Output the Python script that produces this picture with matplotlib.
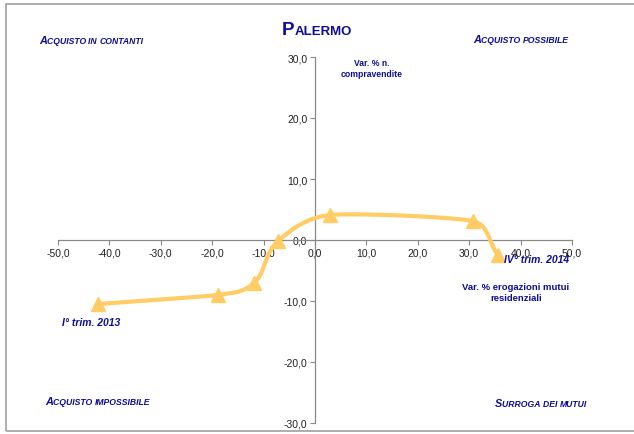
import numpy as np
import matplotlib
matplotlib.use("Agg")
import matplotlib.pyplot as plt
from matplotlib.ticker import FuncFormatter, MultipleLocator
from matplotlib.offsetbox import TextArea, HPacker, AnnotationBbox
from matplotlib.patches import Rectangle

# ---- data ----
x_mutui = [-42.2, -18.9, -11.8, -7.2, 3.0, 30.7, 35.6]
y_compr = [-10.5, -9.0, -7.0, -0.2, 4.1, 3.1, -2.5]
start_label = "I° trim. 2013"
end_label = "IV° trim. 2014"
title_text = "Palermo"
quadrants = ["Acquisto in contanti", "Acquisto possibile",
             "Acquisto impossibile", "Surroga dei mutui"]
x_title = "Var. % erogazioni mutui\nresidenziali"
y_title = "Var. % n.\ncompravendite"

FONT = "Liberation Sans"
NAVY = "#0d0d99"
LINE = "#FFCC66"

W, H = 634, 435
fig = plt.figure(figsize=(W / 100, H / 100), dpi=100)
ax = fig.add_axes([58 / W, (H - 424) / H, (572 - 58) / W, (424 - 58) / H])
ax.patch.set_visible(False)
ax.set_xlim(-50, 50)
ax.set_ylim(-30, 30)

# spines through the origin
for s in ("top", "right"):
    ax.spines[s].set_visible(False)
ax.spines["left"].set_position(("data", 0))
ax.spines["bottom"].set_position(("data", 0))
for s in ("left", "bottom"):
    ax.spines[s].set_color("#888888")
    ax.spines[s].set_linewidth(0.9)
ax.xaxis.set_major_locator(MultipleLocator(10))
ax.yaxis.set_major_locator(MultipleLocator(10))
fmt = FuncFormatter(lambda v, p: f"{v:.1f}".replace(".", ","))
ax.xaxis.set_major_formatter(fmt)
ax.yaxis.set_major_formatter(fmt)
ax.tick_params(axis="both", direction="out", length=3.5, width=0.8,
               color="#888888", labelsize=7.5, labelcolor="#222222", pad=2)
for lab in ax.get_xticklabels() + ax.get_yticklabels():
    lab.set_family(FONT)


# smoothed line (Bezier smoothing in pixel space; control arm length
# limited by the shorter neighbouring segment)
def smooth(xs, ys, n=40, k=0.4):
    sx, sy = 5.14, 6.1
    P = np.column_stack([np.asarray(xs) * sx, np.asarray(ys) * sy])
    m = len(P)
    seg = [np.linalg.norm(P[i + 1] - P[i]) for i in range(m - 1)]
    T, A = [], []
    for i in range(m):
        a = P[i - 1] if i > 0 else P[i]
        b = P[i + 1] if i + 1 < m else P[i]
        d = b - a
        T.append(d / np.linalg.norm(d))
        near = [seg[j] for j in (i - 1, i) if 0 <= j < m - 1]
        A.append(min(near) * k)
    out = []
    for i in range(m - 1):
        p1, p2 = P[i], P[i + 1]
        c1 = p1 + T[i] * A[i]
        c2 = p2 - T[i + 1] * A[i + 1]
        t = np.linspace(0, 1, n)[:, None]
        B = ((1 - t) ** 3) * p1 + 3 * ((1 - t) ** 2) * t * c1 + 3 * (1 - t) * t ** 2 * c2 + t ** 3 * p2
        out.append(B if i == 0 else B[1:])
    C = np.vstack(out)
    return C[:, 0] / sx, C[:, 1] / sy


cx, cy = smooth(x_mutui, y_compr)
ax.plot(cx, cy, color=LINE, lw=3, solid_capstyle="round", zorder=3)
ax.plot(x_mutui, y_compr, ls="none", marker="^", ms=10, color=LINE,
        mec=LINE, zorder=4, clip_on=False)


def small_caps(text, big, small, x, y, style="normal", color=NAVY):
    parts = []
    words = text.split(" ")
    for wi, w in enumerate(words):
        if wi == 0 or w[0].isupper():
            parts.append(TextArea(w[0].upper(), textprops=dict(
                fontsize=big, fontweight="bold", fontstyle=style, color=color, family=FONT)))
            r = w[1:].upper()
        else:
            r = w.upper()
        if wi < len(words) - 1:
            r = r + " "
        if r:
            parts.append(TextArea(r, textprops=dict(
                fontsize=small, fontweight="bold", fontstyle=style, color=color, family=FONT)))
    box = HPacker(children=parts, align="baseline", pad=0, sep=0)
    ab = AnnotationBbox(box, (x, H - y), xycoords="figure pixels",
                        box_alignment=(0, 0.5), frameon=False, pad=0)
    fig.add_artist(ab)


# title
small_caps(title_text, 13.5, 9.5, 282, 31)
# quadrant labels
small_caps(quadrants[0], 7.8, 6.2, 39, 41, style="italic")
small_caps(quadrants[1], 7.8, 6.2, 473, 40, style="italic")
small_caps(quadrants[2], 7.8, 6.2, 45, 402, style="italic")
small_caps(quadrants[3], 7.8, 6.2, 495, 404, style="italic")

# axis titles
fig.text(372 / W, 1 - 69 / H, y_title, ha="center", va="center", fontsize=6.2,
         fontweight="bold", color=NAVY, family=FONT, linespacing=1.15)
fig.text(516 / W, 1 - 293 / H, x_title, ha="center", va="center", fontsize=6.8,
         fontweight="bold", color=NAVY, family=FONT, linespacing=1.15)

# start/end labels
fig.text(62 / W, 1 - 323 / H, start_label, ha="left", va="center", fontsize=7.5,
         fontweight="bold", fontstyle="italic", color=NAVY, family=FONT)
fig.text(504 / W, 1 - 260 / H, end_label, ha="left", va="center", fontsize=7.5,
         fontweight="bold", fontstyle="italic", color=NAVY, family=FONT)

# outer frame
fig.add_artist(Rectangle((6 / W, (H - 432) / H), 2, (432 - 5) / H,
                         transform=fig.transFigure, fill=False,
                         edgecolor="#a0a0a0", lw=1.2))

fig.savefig("out.png", dpi=100)
